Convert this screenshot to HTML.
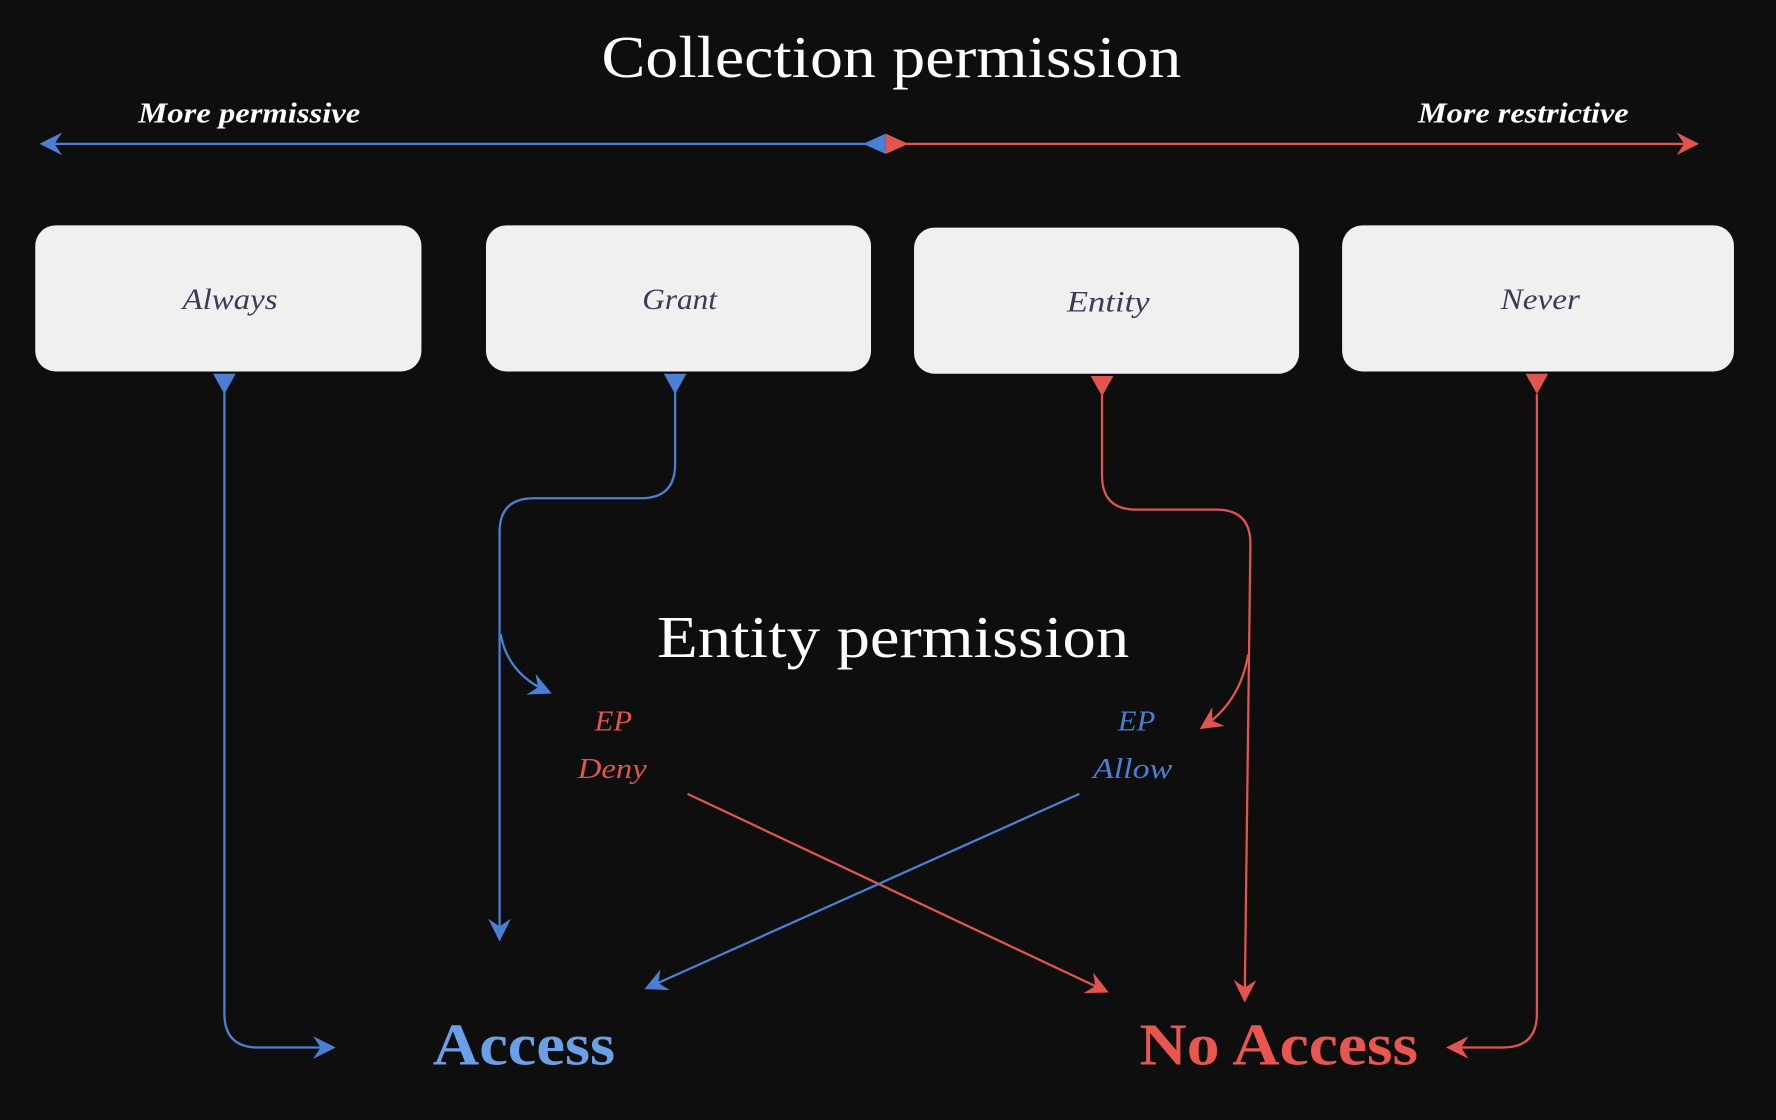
<!DOCTYPE html>
<html><head><meta charset="utf-8"><style>
html,body{margin:0;padding:0;background:#0e0e0e;}
svg{display:block}
</style></head><body>
<svg width="1776" height="1120" viewBox="0 0 1568 989" xmlns="http://www.w3.org/2000/svg" font-family="Liberation Serif, serif">
<rect width="1568" height="989" fill="#0e0e0e"/>
<defs>
<marker id="ab" viewBox="0 0 12 12" refX="10" refY="6" markerWidth="20" markerHeight="20" markerUnits="userSpaceOnUse" orient="auto"><path d="M0,0 L12,6 L0,12 L4,6 Z" fill="#4a7fd4"/></marker>
<marker id="ar" viewBox="0 0 12 12" refX="10" refY="6" markerWidth="20" markerHeight="20" markerUnits="userSpaceOnUse" orient="auto"><path d="M0,0 L12,6 L0,12 L4,6 Z" fill="#e0554d"/></marker>
</defs>
<text x="531" y="68" font-size="52" fill="#fff" textLength="512" lengthAdjust="spacingAndGlyphs">Collection permission</text>
<text x="122" y="108" font-size="25" fill="#fff" font-style="italic" font-weight="bold" textLength="196" lengthAdjust="spacingAndGlyphs">More permissive</text>
<text x="1252" y="108" font-size="25" fill="#fff" font-style="italic" font-weight="bold" textLength="186" lengthAdjust="spacingAndGlyphs">More restrictive</text>
<line x1="772" y1="127" x2="38" y2="127" stroke="#4a7fd4" stroke-width="2" marker-end="url(#ab)"/>
<line x1="792" y1="127" x2="1497" y2="127" stroke="#e0554d" stroke-width="2" marker-end="url(#ar)"/>
<path d="M762,127 L782,118 L782,136 Z" fill="#4a7fd4"/>
<path d="M802,127 L782,118 L782,136 Z" fill="#e0554d"/>
<g fill="#f0f0f0">
<rect x="31" y="199" width="341" height="129" rx="18"/>
<rect x="429" y="199" width="340" height="129" rx="18"/>
<rect x="807" y="201" width="340" height="129" rx="18"/>
<rect x="1185" y="199" width="346" height="129" rx="18"/>
</g>
<g font-size="26" font-style="italic" fill="#3b3b55" lengthAdjust="spacingAndGlyphs">
<text x="161" y="273" textLength="84" lengthAdjust="spacingAndGlyphs">Always</text>
<text x="567" y="273" textLength="66" lengthAdjust="spacingAndGlyphs">Grant</text>
<text x="942" y="275" textLength="73" lengthAdjust="spacingAndGlyphs">Entity</text>
<text x="1325" y="273" textLength="70" lengthAdjust="spacingAndGlyphs">Never</text>
</g>
<path d="M188,330 L208,330 L198,348 Z" fill="#4a7fd4"/>
<path d="M586,330 L606,330 L596,348 Z" fill="#4a7fd4"/>
<path d="M963,332 L983,332 L973,350 Z" fill="#e0554d"/>
<path d="M1347,330 L1367,330 L1357,348 Z" fill="#e0554d"/>
<g fill="none" stroke-width="2">
<path d="M198,346 L198,895 Q198,925 228,925 L293,925" stroke="#4a7fd4" marker-end="url(#ab)"/>
<path d="M596,346 L596,410 Q596,440 566,440 L471,440 Q441,440 441,470 L441,828" stroke="#4a7fd4" marker-end="url(#ab)"/>
<path d="M442,560 Q448,595 484,611" stroke="#4a7fd4" marker-end="url(#ab)"/>
<path d="M973,348 L973,420 Q973,450 1003,450 L1074,450 Q1104,450 1104,480 L1099,882" stroke="#e0554d" marker-end="url(#ar)"/>
<path d="M1102,578 Q1095,620 1062,642" stroke="#e0554d" marker-end="url(#ar)"/>
<path d="M1357,348 L1357,895 Q1357,925 1327,925 L1280,925" stroke="#e0554d" marker-end="url(#ar)"/>
<path d="M607,701 L976,875" stroke="#e0554d" marker-end="url(#ar)"/>
<path d="M953,701 L572,872" stroke="#4a7fd4" marker-end="url(#ab)"/>
</g>
<text x="580" y="580" font-size="52" fill="#fff" textLength="417" lengthAdjust="spacingAndGlyphs">Entity permission</text>
<g font-size="25" font-style="italic">
<text x="525" y="645" fill="#e0554d" textLength="33" lengthAdjust="spacingAndGlyphs">EP</text>
<text x="510" y="687" fill="#e0554d" textLength="61" lengthAdjust="spacingAndGlyphs">Deny</text>
<text x="987" y="645" fill="#4a7fd4" textLength="33" lengthAdjust="spacingAndGlyphs">EP</text>
<text x="965" y="687" fill="#4a7fd4" textLength="70" lengthAdjust="spacingAndGlyphs">Allow</text>
</g>
<text x="382" y="940" font-size="52" font-weight="bold" fill="#6aa0e8" textLength="161" lengthAdjust="spacingAndGlyphs">Access</text>
<text x="1006" y="940" font-size="52" font-weight="bold" fill="#e8564f" textLength="246" lengthAdjust="spacingAndGlyphs">No Access</text>
</svg>
</body></html>
